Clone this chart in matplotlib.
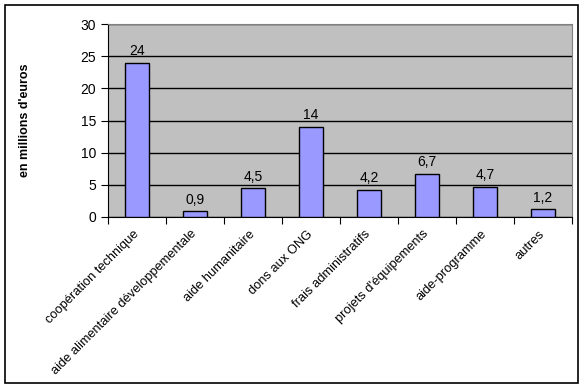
import numpy as np
import matplotlib.pyplot as plt
from matplotlib.patches import Rectangle

plt.rcParams['font.family'] = ['Liberation Sans', 'DejaVu Sans']

categories = ["coopération technique", "aide alimentaire développementale",
              "aide humanitaire", "dons aux ONG", "frais administratifs",
              "projets d'équipements", "aide-programme", "autres"]
values = [24, 0.9, 4.5, 14, 4.2, 6.7, 4.7, 1.2]
labels = ["24", "0,9", "4,5", "14", "4,2", "6,7", "4,7", "1,2"]
yticks = [0, 5, 10, 15, 20, 25, 30]

fig = plt.figure(figsize=(5.84, 3.88), dpi=100)
fig.patches.append(Rectangle((5 / 584, 5 / 388), 573 / 584, 378 / 388,
                             transform=fig.transFigure, fill=False,
                             edgecolor='black', linewidth=1.2))

ax = fig.add_axes([108 / 584, 1 - 217 / 388, 464 / 584, 193 / 388])
ax.set_facecolor('#c0c0c0')

x = np.arange(len(categories))
bars = ax.bar(x, values, width=0.42, color='#9999ff', edgecolor='black',
              linewidth=1, zorder=3)
for xi, v, lab in zip(x, values, labels):
    ax.text(xi, v + 0.7, lab, ha='center', va='bottom', fontsize=10, zorder=4)

ax.set_xlim(-0.5, len(categories) - 0.5)
ax.set_ylim(0, 30)
ax.set_yticks(yticks)
ax.yaxis.grid(True, color='black', linewidth=1, zorder=1)
ax.set_axisbelow(True)

# ticks between categories, labels on the categories
ax.set_xticks(np.arange(len(categories) + 1) - 0.5)
ax.set_xticklabels([])
ax.set_xticks(x, minor=True)
ax.set_xticklabels(categories, minor=True, rotation=45, ha='right',
                   va='center', rotation_mode='anchor', fontsize=9.3)
ax.tick_params(axis='x', which='minor', length=0, pad=11)
ax.tick_params(axis='x', which='major', length=5, direction='out')
ax.tick_params(axis='y', length=5, direction='out', labelsize=10)

for side in ['top', 'right']:
    ax.spines[side].set_color('#808080')
for side in ['left', 'bottom']:
    ax.spines[side].set_color('black')

fig.text(25 / 584, 1 - 120 / 388, "en millions d'euros", rotation=90,
         ha='center', va='center', fontsize=9, fontweight='bold')

fig.savefig('out.png', dpi=100)
